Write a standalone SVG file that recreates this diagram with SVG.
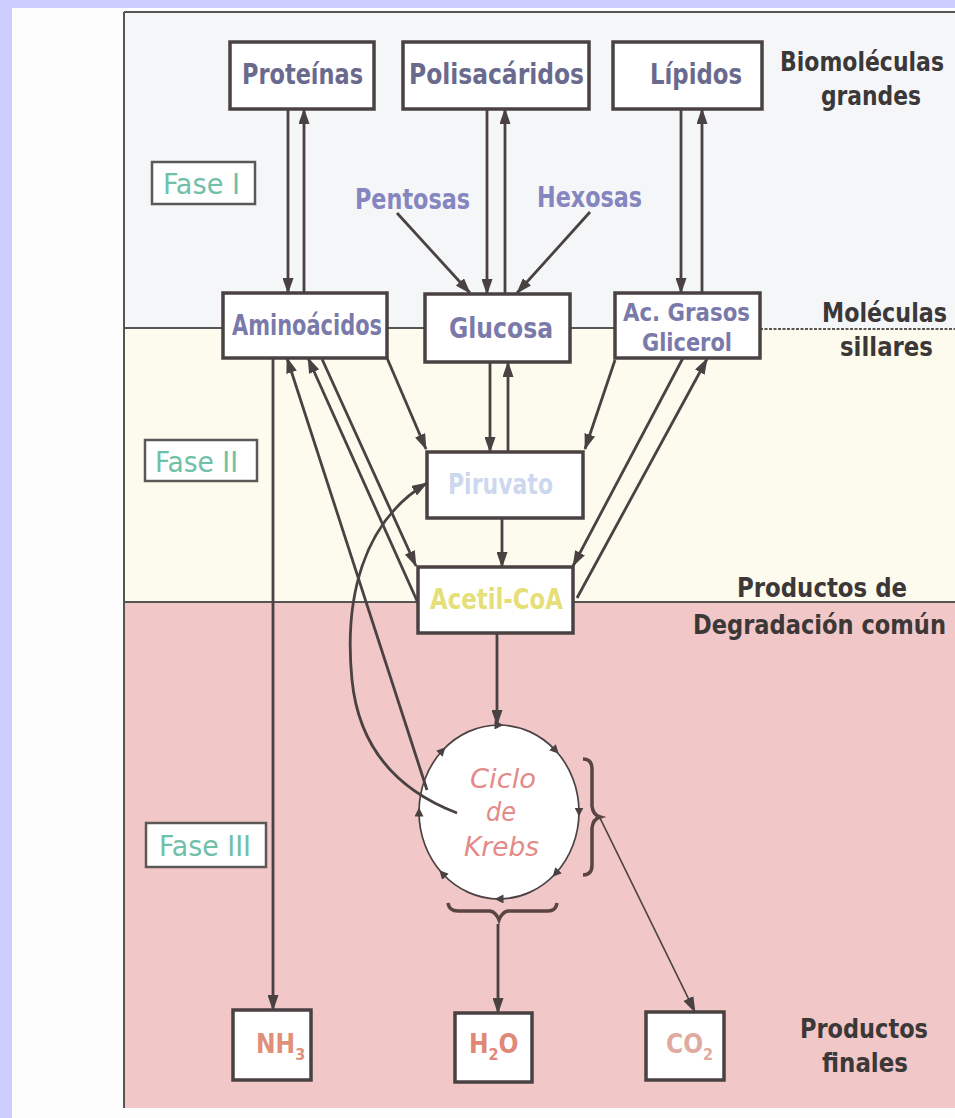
<svg xmlns="http://www.w3.org/2000/svg" width="955" height="1118" viewBox="0 0 955 1118">
<defs>
<style>
.box{fill:#fff;stroke:#4a4242;stroke-width:3.5}
.fbox{fill:#fff;stroke:#5c5858;stroke-width:2.5}
.ln{stroke:#4a4242;stroke-width:2.8;fill:none;marker-end:url(#ah)}
.thin{stroke-width:1.7}
.t{font-family:"DejaVu Sans Condensed","DejaVu Sans",sans-serif;font-weight:bold}
.n1{fill:#6a6a8e;font-size:28px}
.n2{fill:#7a7aaa;font-size:28px}
.n3{fill:#7a7aaa;font-size:25px}
.pe{fill:#8585c0;font-size:28px}
.fa{fill:#70c0a8;font-size:28px;font-weight:normal}
.rl{fill:#3c3838;font-size:26px}
.kr{fill:#e48a88;font-size:26px;font-style:italic;font-weight:normal}
.pr{font-size:26px}
.band{stroke:#555;stroke-width:2;fill:none}
</style>
<marker id="ah" viewBox="0 0 16 11" markerWidth="16" markerHeight="11" refX="15" refY="5.5" orient="auto" markerUnits="userSpaceOnUse">
<path d="M0,0 L16,5.5 L0,11 z" fill="#4a4242"/>
</marker>
<marker id="cm" viewBox="0 0 9 9" markerWidth="9" markerHeight="9" refX="4.5" refY="4.5" orient="auto" markerUnits="userSpaceOnUse">
<path d="M0,0 L9,4.5 L0,9 z" fill="#4a4242"/>
</marker>
</defs>

<g id="background">
<rect x="0" y="0" width="955" height="1118" fill="#ccccff"/>
<rect x="12" y="8" width="943" height="1110" fill="#fdfdfd"/>
<rect x="124" y="12" width="831" height="316" fill="#f5f6f8"/>
<rect x="124" y="328" width="831" height="274" fill="#fdfbee"/>
<rect x="124" y="602" width="831" height="506" fill="#f1c7c7"/>
<path class="band" d="M124,12 H955 M124,12 V1108"/>
<path class="band" d="M124,328 H760"/>
<path class="band" d="M760,329 H955" stroke-dasharray="3 1.5"/>
<path class="band" d="M124,602 H955"/>
</g>

<g id="node-proteinas">
<rect class="box" x="230" y="42" width="144" height="67"/>
<text class="t n1" x="242" y="84" textLength="121" lengthAdjust="spacingAndGlyphs">Proteínas</text>
</g>
<g id="node-polisacaridos">
<rect class="box" x="403" y="42" width="186" height="67"/>
<text class="t n1" x="409" y="84" textLength="175" lengthAdjust="spacingAndGlyphs">Polisacáridos</text>
</g>
<g id="node-lipidos">
<rect class="box" x="613" y="42" width="149" height="67"/>
<text class="t n1" x="650" y="84" textLength="92" lengthAdjust="spacingAndGlyphs">Lípidos</text>
</g>
<g id="label-biomoleculas">
<text class="t rl" x="780" y="71" textLength="164" lengthAdjust="spacingAndGlyphs">Biomoléculas</text>
<text class="t rl" x="821" y="105" textLength="100" lengthAdjust="spacingAndGlyphs">grandes</text>
</g>
<g id="fase1">
<rect class="fbox" x="152" y="162" width="103" height="42"/>
<text class="t fa" x="163" y="194" textLength="77" lengthAdjust="spacingAndGlyphs">Fase I</text>
</g>
<g id="node-pentosas">
<text class="t pe" x="355" y="209" textLength="115" lengthAdjust="spacingAndGlyphs">Pentosas</text>
</g>
<g id="node-hexosas">
<text class="t pe" x="537" y="207" textLength="105" lengthAdjust="spacingAndGlyphs">Hexosas</text>
</g>
<g id="node-aminoacidos">
<rect class="box" x="223" y="293" width="164" height="65"/>
<text class="t n2" x="232" y="335" textLength="150" lengthAdjust="spacingAndGlyphs">Aminoácidos</text>
</g>
<g id="node-glucosa">
<rect class="box" x="425" y="294" width="145" height="68"/>
<text class="t n2" x="449" y="338" textLength="104" lengthAdjust="spacingAndGlyphs">Glucosa</text>
</g>
<g id="node-acgrasos">
<rect class="box" x="615" y="293" width="145" height="65"/>
<text class="t n3" x="623" y="321" textLength="127" lengthAdjust="spacingAndGlyphs">Ac. Grasos</text>
<text class="t n3" x="642" y="351" textLength="90" lengthAdjust="spacingAndGlyphs">Glicerol</text>
</g>
<g id="label-moleculas">
<text class="t rl" x="822" y="322" textLength="125" lengthAdjust="spacingAndGlyphs">Moléculas</text>
<text class="t rl" x="840" y="356" textLength="93" lengthAdjust="spacingAndGlyphs">sillares</text>
</g>
<g id="fase2">
<rect class="fbox" x="145" y="440" width="112" height="41"/>
<text class="t fa" x="155" y="472" textLength="83" lengthAdjust="spacingAndGlyphs">Fase II</text>
</g>
<g id="node-piruvato">
<rect class="box" x="427" y="452" width="156" height="66"/>
<text class="t" x="448" y="494" font-size="28" fill="#cdd8ee" textLength="105" lengthAdjust="spacingAndGlyphs">Piruvato</text>
</g>
<g id="node-acetilcoa">
<rect class="box" x="418" y="567" width="155" height="66"/>
<text class="t" x="430" y="609" font-size="28" fill="#e6df78" textLength="133" lengthAdjust="spacingAndGlyphs">Acetil-CoA</text>
</g>
<g id="label-productos-degradacion">
<text class="t rl" x="737" y="597" textLength="170" lengthAdjust="spacingAndGlyphs">Productos de</text>
<text class="t rl" x="693" y="634" textLength="253" lengthAdjust="spacingAndGlyphs">Degradación común</text>
</g>
<g id="fase3">
<rect class="fbox" x="146" y="823" width="120" height="44"/>
<text class="t fa" x="159" y="856" textLength="92" lengthAdjust="spacingAndGlyphs">Fase III</text>
</g>
<g id="node-krebs">
<ellipse cx="499" cy="812" rx="80" ry="87" fill="#fff"/>
<path d="M468.4,731.6 A80,87 0 0 1 499,725 A80,87 0 0 1 555.6,750.5 A80,87 0 0 1 579,812 A80,87 0 0 1 555.6,873.5 A80,87 0 0 1 499,899 A80,87 0 0 1 442.4,873.5 A80,87 0 0 1 419,812 A80,87 0 0 1 442.4,750.5 A80,87 0 0 1 468.4,731.6" fill="none" stroke="#4a4242" stroke-width="1.7" marker-mid="url(#cm)"/>
<text class="t kr" x="470" y="788" textLength="66" lengthAdjust="spacingAndGlyphs">Ciclo</text>
<text class="t kr" x="486" y="821" textLength="30" lengthAdjust="spacingAndGlyphs">de</text>
<text class="t kr" x="464" y="856" textLength="75" lengthAdjust="spacingAndGlyphs">Krebs</text>
<path d="M448,903 Q449,911 458,911 L490,911 Q496,912 499,920 Q502,912 508,911 L548,911 Q556,911 557,903" fill="none" stroke="#5a4444" stroke-width="3.5"/>
<path d="M583,759 Q592,759 592,769 L592,806 Q593,815 600,817 Q593,819 592,828 L592,865 Q592,875 583,875" fill="none" stroke="#5a4444" stroke-width="3.5"/>
</g>
<g id="node-nh3">
<rect class="box" x="233" y="1010" width="78" height="70"/>
<text class="t pr" x="256" y="1053" fill="#e0907a">NH<tspan font-size="16" dy="7">3</tspan></text>
</g>
<g id="node-h2o">
<rect class="box" x="455" y="1013" width="77" height="69"/>
<text class="t pr" x="469" y="1053" fill="#e08878">H<tspan font-size="16" dy="7">2</tspan><tspan dy="-7">O</tspan></text>
</g>
<g id="node-co2">
<rect class="box" x="646" y="1012" width="78" height="68"/>
<text class="t pr" x="666" y="1053" fill="#e0aaa0">CO<tspan font-size="16" dy="7">2</tspan></text>
</g>
<g id="label-productos-finales">
<text class="t rl" x="800" y="1038" textLength="128" lengthAdjust="spacingAndGlyphs">Productos</text>
<text class="t rl" x="822" y="1072" textLength="86" lengthAdjust="spacingAndGlyphs">finales</text>
</g>

<g id="connectors">
<path class="ln" d="M288,109 V293"/>
<path class="ln" d="M304,293 V109"/>
<path class="ln" d="M487,109 V294"/>
<path class="ln" d="M505,294 V109"/>
<path class="ln" d="M681,109 V293"/>
<path class="ln" d="M702,293 V109"/>
<path class="ln" d="M397,213 L470,293"/>
<path class="ln" d="M590,212 L517,293"/>
<path class="ln" d="M490,362 V452"/>
<path class="ln" d="M508,452 V362"/>
<path class="ln" d="M387,358 L426,449"/>
<path class="ln" d="M615,360 L585,449"/>
<path class="ln" d="M502,518 V567"/>
<path class="ln" d="M322,359 L416,566"/>
<path class="ln" d="M418,603 L308,358"/>
<path class="ln" d="M683,358 L573,566"/>
<path class="ln" d="M577,598 L707,359"/>
<path class="ln" d="M427,790 L287,358"/>
<path class="ln" d="M457,813 C410,795 360,760 352,680 C344,600 362,522 427,483"/>
<path class="ln" d="M497,633 V725"/>
<path class="ln" d="M273,358 V1010"/>
<path class="ln" d="M498,924 V1013"/>
<path class="ln thin" d="M600,818 L695,1012"/>
</g>
</svg>
